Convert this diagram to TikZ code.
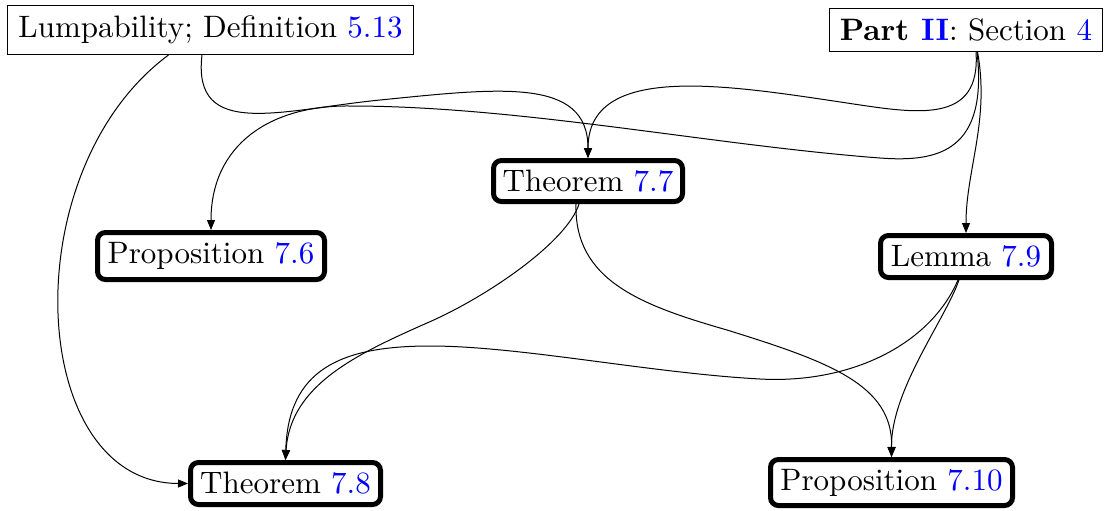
\documentclass[tikz,border=0pt]{standalone}
\usepackage{fontspec}
\setmainfont{lmroman10-regular.otf}[BoldFont=lmroman10-bold.otf]
\usetikzlibrary{arrows.meta,calc}
\definecolor{refblue}{RGB}{0,0,255}
\tikzset{
  thinbox/.style={draw, line width=0.5pt, inner sep=0pt, align=center},
  thmbox/.style={draw, line width=2.5pt, rounded corners=4pt, inner sep=0pt, align=center},
  edge/.style={line width=0.5pt, -{Triangle[length=5pt,width=4pt]}}
}
\newcommand{\bl}[1]{\textcolor{refblue}{#1}}
\begin{document}
\begin{tikzpicture}[x=0.5pt,y=-0.5pt,font=\fontsize{15.5}{18}\selectfont]
\useasboundingbox (0,0) rectangle (1105,510);

\node[thinbox, minimum width=203pt, minimum height=24.5pt] (lump) at (210.5,30) {Lumpability; Definition \bl{5.13}};
\node[thinbox, minimum width=136.5pt, minimum height=21.25pt] (part) at (966,30) {\textbf{Part \bl{II}}: Section \bl{4}};
\node[thmbox, minimum width=94.5pt, minimum height=20.5pt] (thm77) at (588,181) {Theorem \bl{7.7}};
\node[thmbox, minimum width=113.5pt, minimum height=23.5pt] (prop76) at (211,256) {Proposition \bl{7.6}};
\node[thmbox, minimum width=85.5pt, minimum height=21pt] (lem79) at (966,256.5) {Lemma \bl{7.9}};
\node[thmbox, minimum width=95pt, minimum height=21pt] (thm78) at (285.5,483.5) {Theorem \bl{7.8}};
\node[thmbox, minimum width=121pt, minimum height=23pt] (prop710) at (891.5,482.5) {Proposition \bl{7.10}};

% Lumpability -> Theorem 7.8
\draw[edge] ($(lump.south)+(-42,0)$) .. controls (12,171) and (27,483) .. (thm78.west);
% Lumpability -> Theorem 7.7
\draw[edge] ($(lump.south)+(-8.5,0)$) .. controls (192,140) and (280,110) .. (380,100)
  .. controls (500,88) and (588,77) .. (thm77.north);
% Part II -> Theorem 7.7
\draw[edge] ($(part.south)+(10,0)$) .. controls (981,125) and (917,113.5) .. (847,103)
  .. controls (727,85) and (588,62) .. (thm77.north);
% Part II -> Proposition 7.6
\draw[edge] ($(part.south)+(11,0)$) .. controls (988,150) and (940,162.6) .. (880,158)
  .. controls (710,145) and (520,106) .. (350,106)
  .. controls (270,105) and (211,145) .. (prop76.north);
% Part II -> Lemma 7.9
\draw[edge] ($(part.south)+(11.5,0)$) .. controls (990,120) and (966,170) .. (lem79.north);
% Theorem 7.7 -> Theorem 7.8
\draw[edge] ($(thm77.south)+(-9,0)$) .. controls (567,242) and (487,297) .. (427,323)
  .. controls (357,354) and (290,385) .. (thm78.north);
% Theorem 7.7 -> Proposition 7.10
\draw[edge] ($(thm77.south)+(-12,0)$) .. controls (574,280) and (640,305) .. (727,330)
  .. controls (830,362) and (893,385) .. (prop710.north);
% Lemma 7.9 -> Theorem 7.8
\draw[edge] ($(lem79.south)+(-8,0)$) .. controls (930,345) and (850,384) .. (760,379)
  .. controls (650,373) and (520,346) .. (430,346)
  .. controls (340,346) and (288,370) .. (thm78.north);
% Lemma 7.9 -> Proposition 7.10
\draw[edge] ($(lem79.south)+(-7,0)$) .. controls (945,320) and (891,390) .. (prop710.north);
\end{tikzpicture}
\end{document}
